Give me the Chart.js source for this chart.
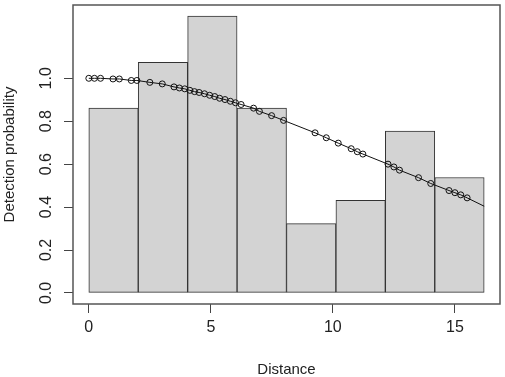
<!DOCTYPE html>
<html>
<head>
<meta charset="utf-8">
<script src="https://cdn.jsdelivr.net/npm/chart.js@4"></script>
<style>
  html, body { margin: 0; padding: 0; background: #fff; }
  canvas { display: block; }
</style>
</head>
<body>
<canvas id="detChart" width="505" height="377"></canvas>
<script>
// histogram bins (distance) and scaled heights
const binEdges = [0, 2.025, 4.05, 6.075, 8.1, 10.125, 12.15, 14.175, 16.2];
const binHeights = [0.861, 1.075, 1.29, 0.861, 0.323, 0.431, 0.754, 0.538];

// observed distances and fitted detection probability
const obsDistance = [
  0.0, 0.23, 0.48, 0.99, 1.25, 1.74, 1.97, 2.5, 3.01, 3.49, 3.71, 3.93, 4.14, 4.33,
  4.52, 4.74, 4.95, 5.16, 5.36, 5.58, 5.8, 6.01, 6.24, 6.75, 6.99, 7.49, 7.98, 9.27,
  9.73, 10.22, 10.75, 11.0, 11.23, 12.26, 12.5, 12.73, 13.51, 14.01, 14.76, 15.0,
  15.24, 15.5
];
const detProb = [
  1.0, 1.0, 1.0, 0.997, 0.997, 0.99, 0.99, 0.981, 0.974, 0.96, 0.955, 0.951, 0.944, 0.938,
  0.934, 0.928, 0.921, 0.915, 0.907, 0.901, 0.893, 0.886, 0.878, 0.861, 0.846, 0.826, 0.804, 0.746,
  0.723, 0.698, 0.672, 0.658, 0.647, 0.6, 0.587, 0.572, 0.537, 0.51, 0.477, 0.467,
  0.457, 0.443
];
// curve end at the last bin edge
const curveEndX = 16.2;
const curveEndY = 0.404;

const xTicks = [0, 5, 10, 15];
const yTicks = [0, 0.2, 0.4, 0.6, 0.8, 1.0];

const FONT = "'Liberation Sans', Arial, sans-serif";
const INK = "#222";

const barData = binHeights.map((h, i) => ({
  x: (binEdges[i] + binEdges[i + 1]) / 2,
  y: h,
}));
const pointData = obsDistance.map((d, i) => ({ x: d, y: detProb[i] }));
const curveData = pointData.concat([{ x: curveEndX, y: curveEndY }]);

// R style box around the plot region
const boxPlugin = {
  id: "plotBox",
  afterDraw(chart) {
    const { ctx, chartArea: a } = chart;
    ctx.save();
    ctx.strokeStyle = "#555";
    ctx.lineWidth = 1.5;
    ctx.strokeRect(a.left, a.top, a.right - a.left, a.bottom - a.top);
    ctx.restore();
  },
};

const xRange = binEdges[binEdges.length - 1] - binEdges[0];
const yMax = Math.max(...binHeights);

new Chart(document.getElementById("detChart").getContext("2d"), {
  type: "bar",
  data: {
    datasets: [
      {
        type: "scatter",
        data: pointData,
        pointRadius: 3,
        pointBorderWidth: 1,
        pointBorderColor: "#111",
        pointBackgroundColor: "rgba(0,0,0,0)",
        order: 1,
      },
      {
        type: "line",
        data: curveData,
        borderColor: "#111",
        borderWidth: 1,
        pointRadius: 0,
        tension: 0,
        fill: false,
        order: 2,
      },
      {
        type: "bar",
        data: barData,
        backgroundColor: "#d3d3d3",
        borderColor: "#333",
        borderWidth: 1,
        borderSkipped: false,
        barPercentage: 1,
        categoryPercentage: 1,
        grouped: false,
        order: 3,
      },
    ],
  },
  options: {
    responsive: false,
    animation: false,
    layout: { padding: { left: 0, top: 1, right: 3, bottom: 0 } },
    plugins: {
      legend: { display: false },
      tooltip: { enabled: false },
    },
    scales: {
      x: {
        type: "linear",
        offset: false,
        min: binEdges[0] - 0.04 * xRange,
        max: binEdges[binEdges.length - 1] + 0.04 * xRange,
        afterBuildTicks: (scale) => {
          scale.ticks = xTicks.map((v) => ({ value: v }));
        },
        afterFit: (scale) => {
          scale.height = 73;
          scale.paddingLeft = 0;
          scale.paddingRight = 0;
        },
        grid: {
          offset: false,
          drawOnChartArea: false,
          drawTicks: true,
          tickLength: 9,
          color: "#444",
        },
        border: { display: false },
        ticks: {
          padding: 5,
          color: INK,
          font: { family: FONT, size: 16 },
          maxRotation: 0,
        },
        title: {
          display: true,
          text: "Distance",
          color: INK,
          font: { family: FONT, size: 15, lineHeight: 1 },
          padding: { top: 0, bottom: 0 },
        },
      },
      y: {
        type: "linear",
        min: -0.04 * yMax,
        max: yMax * 1.04,
        afterBuildTicks: (scale) => {
          scale.ticks = yTicks.map((v) => ({ value: v }));
        },
        afterFit: (scale) => {
          scale.width = 73;
          scale.paddingTop = 0;
          scale.paddingBottom = 0;
        },
        grid: {
          offset: false,
          drawOnChartArea: false,
          drawTicks: true,
          tickLength: 9,
          color: "#444",
        },
        border: { display: false },
        ticks: {
          padding: 6,
          crossAlign: "center",
          minRotation: 90,
          maxRotation: 90,
          color: INK,
          font: { family: FONT, size: 16 },
          callback: (v) => v.toFixed(1),
        },
        title: {
          display: true,
          text: "Detection probability",
          color: INK,
          font: { family: FONT, size: 15, lineHeight: 1 },
          padding: { top: 2, bottom: 0 },
        },
      },
    },
  },
  plugins: [boxPlugin],
});
</script>
</body>
</html>
